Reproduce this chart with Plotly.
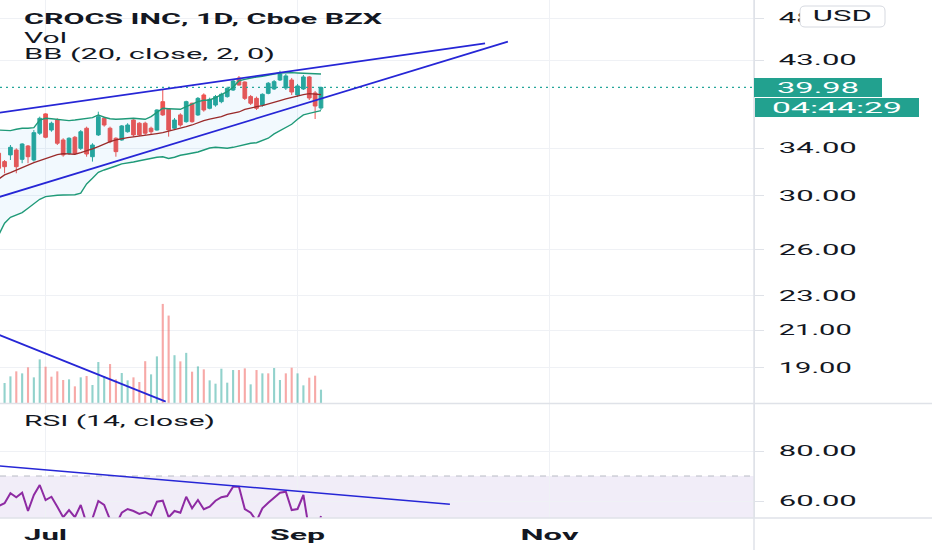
import math
import json
import plotly.graph_objects as go

# ---------------- data ----------------
DATES = ["2020-06-19", "2020-06-22", "2020-06-23", "2020-06-24", "2020-06-25", "2020-06-26",
         "2020-06-29", "2020-06-30", "2020-07-01", "2020-07-02", "2020-07-06", "2020-07-07",
         "2020-07-08", "2020-07-09", "2020-07-10", "2020-07-13", "2020-07-14", "2020-07-15",
         "2020-07-16", "2020-07-17", "2020-07-20", "2020-07-21", "2020-07-22", "2020-07-23",
         "2020-07-24", "2020-07-27", "2020-07-28", "2020-07-29", "2020-07-30", "2020-07-31",
         "2020-08-03", "2020-08-04", "2020-08-05", "2020-08-06", "2020-08-07", "2020-08-10",
         "2020-08-11", "2020-08-12", "2020-08-13", "2020-08-14", "2020-08-17", "2020-08-18",
         "2020-08-19", "2020-08-20", "2020-08-21", "2020-08-24", "2020-08-25", "2020-08-26",
         "2020-08-27", "2020-08-28", "2020-08-31", "2020-09-01", "2020-09-02", "2020-09-03",
         "2020-09-04", "2020-09-08"]

OPEN = [33.58, 32.84, 33.43, 33.87, 33.04, 34.23, 32.98, 35.41, 37.27, 35.71,
        36.67, 34.78, 33.58, 35.03, 34.02, 35.88, 33.27, 35.25, 36.84, 35.88,
        34.94, 34.78, 35.55, 36.67, 36.36, 36.36, 35.88, 35.71, 38.50, 37.73,
        35.88, 37.17, 36.51, 38.34, 37.17, 39.19, 37.83, 38.16, 38.50, 39.02,
        39.71, 40.99, 40.56, 39.02, 38.84, 38.16, 39.36, 39.82, 40.78, 39.92,
        40.78, 39.19, 39.82, 41.11, 39.40, 37.86]
HIGH = [33.87, 32.98, 34.32, 34.02, 34.48, 34.32, 35.71, 37.00, 37.33, 36.51,
        36.84, 34.94, 35.03, 35.15, 35.71, 36.03, 34.48, 37.49, 37.00, 36.03,
        35.03, 36.19, 36.36, 36.74, 36.46, 36.51, 36.03, 37.73, 39.79, 37.83,
        36.87, 37.33, 38.60, 38.40, 38.98, 39.36, 38.91, 39.19, 39.43, 40.06,
        40.78, 41.21, 40.63, 39.19, 39.02, 39.36, 40.56, 40.78, 41.80, 41.44,
        41.00, 40.35, 41.33, 41.22, 39.61, 40.08]
LOW = [31.95, 31.84, 32.98, 31.84, 32.70, 32.70, 32.84, 35.25, 34.94, 35.55,
       34.32, 33.27, 33.43, 33.43, 33.87, 33.27, 32.84, 35.15, 36.03, 34.48,
       33.27, 34.71, 35.46, 35.09, 35.15, 35.25, 35.25, 35.65, 37.07, 35.09,
       35.71, 36.03, 36.41, 36.41, 37.07, 37.49, 37.73, 37.99, 38.34, 38.91,
       39.61, 40.17, 38.67, 38.16, 37.66, 37.99, 39.26, 39.71, 40.67, 39.71,
       39.19, 38.98, 39.71, 38.67, 36.77, 37.66]
CLOSE = [32.27, 32.40, 34.11, 32.40, 34.41, 33.27, 35.46, 36.84, 35.03, 36.36,
         34.48, 33.43, 34.94, 33.58, 35.55, 33.51, 34.32, 37.00, 36.19, 34.62,
         33.72, 36.10, 36.19, 35.25, 35.25, 35.41, 35.55, 37.66, 37.17, 35.71,
         36.67, 36.19, 38.50, 36.51, 38.84, 37.66, 38.74, 39.02, 39.26, 39.89,
         40.67, 40.24, 38.84, 38.34, 37.83, 39.26, 40.43, 40.60, 41.44, 41.22,
         39.50, 40.14, 41.11, 38.88, 38.06, 39.98]

VOLUME_M = [1.50, 1.20, 1.60, 1.90, 1.78, 2.14, 1.54, 2.62, 2.18, 1.58,
            1.90, 1.38, 1.42, 1.00, 1.54, 1.62, 1.08, 2.46, 1.62, 2.34,
            1.42, 1.80, 1.36, 1.54, 1.26, 2.51, 1.72, 2.80, 5.95, 5.25,
            2.87, 2.50, 3.01, 1.88, 2.20, 2.02, 1.36, 1.16, 2.06, 1.22,
            1.98, 1.98, 2.08, 1.12, 1.98, 1.78, 1.78, 2.10, 1.38, 1.78,
            2.12, 1.78, 1.06, 1.52, 1.64, 0.80]
# 1 = teal (up) volume bar, 0 = red (down) volume bar, as coloured in the picture
VOLUME_UP = [1, 1, 1, 0, 1, 0, 1, 1, 0, 0,
             0, 0, 1, 0, 1, 0, 1, 1, 1, 0,
             0, 1, 1, 0, 0, 0, 1, 1, 0, 0,
             1, 0, 1, 0, 1, 0, 1, 1, 1, 1,
             1, 0, 0, 1, 0, 1, 0, 1, 1, 0,
             0, 1, 1, 0, 0, 1]

BB_UPPER = [35.71, 35.69, 35.65, 35.78, 35.88, 35.88, 35.94, 36.67, 36.84, 36.80,
            36.74, 36.67, 36.61, 36.67, 36.74, 36.84, 36.90, 37.17, 36.94, 36.80,
            36.74, 36.77, 36.84, 36.84, 36.80, 36.74, 37.00, 37.46, 37.83, 37.79,
            37.73, 37.73, 37.99, 38.24, 38.50, 38.64, 38.67, 38.91, 39.19, 39.53,
            40.00, 40.70, 40.85, 41.00, 41.11, 41.18, 41.27, 41.44, 41.55, 41.58,
            41.58, 41.55, 41.51, 41.51, 41.47, 41.44]
BB_BASIS = [31.36, 31.70, 31.89, 32.12, 32.35, 32.52, 32.75, 32.92, 33.10, 33.27,
            33.45, 33.54, 33.54, 33.49, 33.63, 33.78, 33.96, 34.17, 34.41, 34.62,
            34.78, 34.90, 34.99, 35.06, 35.12, 35.18, 35.27, 35.37, 35.46, 35.59,
            35.74, 35.88, 36.03, 36.19, 36.41, 36.61, 36.77, 36.87, 37.00, 37.23,
            37.33, 37.46, 37.73, 37.89, 37.99, 38.09, 38.24, 38.40, 38.60, 38.78,
            38.95, 39.12, 39.22, 39.33, 39.30, 39.22]
BB_LOWER = [27.03, 27.89, 28.33, 28.48, 28.68, 29.02, 29.35, 29.72, 29.93, 30.00,
            30.04, 30.06, 30.06, 30.08, 30.20, 30.95, 31.42, 31.92, 32.12, 32.26,
            32.46, 32.64, 32.70, 32.81, 32.92, 33.04, 33.12, 33.22, 33.27, 33.12,
            33.22, 33.40, 33.49, 33.58, 33.69, 33.87, 34.05, 34.11, 34.08, 34.02,
            34.11, 34.23, 34.35, 34.48, 34.53, 34.71, 34.94, 35.34, 35.65, 35.88,
            36.26, 36.74, 37.17, 37.33, 37.43, 37.59]

RSI = [58.0, 59.1, 63.1, 61.5, 63.3, 56.0, 62.4, 66.4, 60.4, 61.7,
       57.7, 53.5, 56.4, 53.5, 58.4, 51.0, 53.0, 60.0, 58.4, 52.5,
       50.5, 55.3, 56.8, 56.0, 54.8, 55.6, 54.3, 59.7, 60.1, 53.5,
       56.0, 55.3, 61.7, 57.1, 60.4, 56.7, 57.7, 60.1, 61.5, 62.0,
       65.7, 65.7, 56.8, 55.3, 52.0, 57.1, 59.3, 61.5, 63.3, 63.7,
       56.4, 56.8, 62.4, 48.0, 45.0, 54.0]

LAST_PRICE = 39.98
COUNTDOWN = "04:44:29"
CURRENCY = "USD"

PRICE_TICKS = [19, 21, 23, 26, 30, 34, 43, 48]
RSI_TICKS = [60, 80]
RSI_BAND = [30, 70]
MONTH_LABELS = ["Jul", "Sep", "Nov"]
MONTH_TICK_BARS = [8, 51, 94]          # bar index of the first session of each month

# trend lines drawn on the chart: (bar index, value)
UPPER_WEDGE_BARS = [0, 83.0]
UPPER_WEDGE_PRICES = [37.37, 44.95]
LOWER_WEDGE_BARS = [0, 86.9]
LOWER_WEDGE_PRICES = [29.89, 45.14]
VOLUME_LINE_BARS = [0, 28.5]
VOLUME_LINE_VALUES = [4.10, 0.08]
RSI_LINE_BARS = [0, 77.0]
RSI_LINE_VALUES = [74.04, 58.7]

TITLE = "CROCS INC, 1D, Cboe BZX"
VOL_LABEL = "Vol"
BB_LABEL = "BB (20, close, 2, 0)"
RSI_LABEL = "RSI (14, close)"

# ---------------- styling ----------------
X_RANGE = [0.22, 128.9]
PRICE_RANGE = [17.31, 50.42]
VOL_RANGE = [0, 24.2]
RSI_RANGE = [53.2, 98.8]

W, H = 932, 550
ML, MR, MT, MB = 0, 178, 0, 32
PW, PH = W - ML - MR, H - MT - MB          # 754 x 518
MAIN_BOTTOM_PX = 403
RSI_TOP_PX = 404

TEAL = "#26a69a"
RED = "#ef5350"
LABEL_BG = "#22a18f"
TEAL_VOL = "rgba(38,166,154,0.5)"
RED_VOL = "rgba(239,83,80,0.5)"
BAND_LINE = "#1f9a78"
BASIS_LINE = "#9a2a2a"
BB_FILL = "rgba(33,150,243,0.06)"
TREND = "#2626d6"
RSI_COLOR = "#8e2ba3"
RSI_FILL = "rgba(126,87,194,0.11)"
GRID = "#eff1f5"
AXIS_LINE = "#dfe2e8"
TEXT = "#131722"
FONT = "Roboto, DejaVu Sans, sans-serif"


def px_x(px):
    return px / PW


def px_y(py):
    return 1 - py / PH


bars = list(range(len(DATES)))
vol_colors = [TEAL_VOL if up else RED_VOL for up in VOLUME_UP]

fig = go.Figure()

# Bollinger bands
fig.add_trace(go.Scatter(x=bars, y=BB_UPPER, mode="lines", line=dict(color=BAND_LINE, width=1.4),
                         hoverinfo="skip", xaxis="x", yaxis="y"))
fig.add_trace(go.Scatter(x=bars, y=BB_LOWER, mode="lines", line=dict(color=BAND_LINE, width=1.4),
                         fill="tonexty", fillcolor=BB_FILL, hoverinfo="skip", xaxis="x", yaxis="y"))
fig.add_trace(go.Scatter(x=bars, y=BB_BASIS, mode="lines", line=dict(color=BASIS_LINE, width=1.3),
                         hoverinfo="skip", xaxis="x", yaxis="y"))

# last price line
fig.add_trace(go.Scatter(x=X_RANGE, y=[LAST_PRICE, LAST_PRICE], mode="lines",
                         line=dict(color=TEAL, width=1.2, dash="2px,4px"), hoverinfo="skip",
                         xaxis="x", yaxis="y"))

# candles
fig.add_trace(go.Candlestick(
    x=bars, open=OPEN, high=HIGH, low=LOW, close=CLOSE,
    increasing=dict(line=dict(color=TEAL, width=1), fillcolor=TEAL),
    decreasing=dict(line=dict(color=RED, width=1), fillcolor=RED),
    whiskerwidth=0, hoverinfo="skip", xaxis="x", yaxis="y"))

# wedge trend lines
fig.add_trace(go.Scatter(x=UPPER_WEDGE_BARS, y=UPPER_WEDGE_PRICES, mode="lines",
                         line=dict(color=TREND, width=1.8), hoverinfo="skip", xaxis="x", yaxis="y"))
fig.add_trace(go.Scatter(x=LOWER_WEDGE_BARS, y=LOWER_WEDGE_PRICES, mode="lines",
                         line=dict(color=TREND, width=1.8), hoverinfo="skip", xaxis="x", yaxis="y"))

# volume
fig.add_trace(go.Bar(x=bars, y=VOLUME_M, marker=dict(color=vol_colors, line=dict(width=0)),
                     width=0.36, hoverinfo="skip", xaxis="x", yaxis="y2"))
fig.add_trace(go.Scatter(x=VOLUME_LINE_BARS, y=VOLUME_LINE_VALUES, mode="lines",
                         line=dict(color=TREND, width=1.8), hoverinfo="skip", xaxis="x", yaxis="y2"))

# RSI
fig.add_trace(go.Scatter(x=bars, y=RSI, mode="lines", line=dict(color=RSI_COLOR, width=2),
                         hoverinfo="skip", xaxis="x", yaxis="y3"))
fig.add_trace(go.Scatter(x=RSI_LINE_BARS, y=RSI_LINE_VALUES, mode="lines",
                         line=dict(color=TREND, width=1.5), hoverinfo="skip", xaxis="x", yaxis="y3"))

tickfont = dict(family=FONT, size=14, color=TEXT)
main_domain = [px_y(MAIN_BOTTOM_PX), 1]
rsi_domain = [0, px_y(RSI_TOP_PX)]

fig.update_layout(
    width=W, height=H, margin=dict(l=ML, r=MR, t=MT, b=MB),
    paper_bgcolor="white", plot_bgcolor="white", showlegend=False, hovermode=False,
    boxgap=0.1,
    xaxis=dict(range=X_RANGE, anchor="y3", tickmode="array", tickvals=MONTH_TICK_BARS,
               ticktext=MONTH_LABELS, showgrid=True, gridcolor=GRID, gridwidth=1, zeroline=False,
               ticks="", showline=False, ticklabelstandoff=6,
               tickfont=dict(family=FONT, size=15, color=TEXT, weight="bold"),
               rangeslider=dict(visible=False), fixedrange=True),
    yaxis=dict(type="log", domain=main_domain,
               range=[math.log10(PRICE_RANGE[0]), math.log10(PRICE_RANGE[1])],
               side="right", tickmode="array", tickvals=PRICE_TICKS,
               ticktext=[f"{v:.2f}" for v in PRICE_TICKS], showgrid=True, gridcolor=GRID,
               zeroline=False, ticks="outside", ticklen=9, tickcolor=AXIS_LINE, showline=True,
               linecolor=AXIS_LINE, linewidth=1, tickfont=tickfont, ticklabelstandoff=12,
               fixedrange=True),
    yaxis2=dict(overlaying="y", anchor="x", range=VOL_RANGE, visible=False, fixedrange=True),
    yaxis3=dict(domain=rsi_domain, anchor="x", range=RSI_RANGE, side="right", tickmode="array",
                tickvals=RSI_TICKS, ticktext=[f"{v:.2f}" for v in RSI_TICKS], showgrid=True,
                gridcolor=GRID, zeroline=False, ticks="outside", ticklen=9, tickcolor=AXIS_LINE,
                showline=True, linecolor=AXIS_LINE, linewidth=1, tickfont=tickfont,
                ticklabelstandoff=12, fixedrange=True),
)

shapes = []
# RSI band background and upper band line
shapes.append(dict(type="rect", xref="paper", yref="y3", x0=0, x1=1, y0=RSI_BAND[0], y1=RSI_BAND[1],
                   fillcolor=RSI_FILL, line=dict(width=0), layer="below"))
shapes.append(dict(type="line", xref="paper", yref="y3", x0=0, x1=1, y0=RSI_BAND[1], y1=RSI_BAND[1],
                   line=dict(color="#b8bbc4", width=1, dash="6px,6px"), layer="below"))
# pane separators
for py in (MAIN_BOTTOM_PX + 0.5, PH):
    shapes.append(dict(type="line", xref="paper", yref="paper", x0=0, x1=W / PW,
                       y0=px_y(py), y1=px_y(py), line=dict(color=AXIS_LINE, width=1.5), layer="above"))
shapes.append(dict(type="line", xref="paper", yref="paper", x0=1, x1=1, y0=-MB / PH, y1=1,
                   line=dict(color=AXIS_LINE, width=1.5), layer="above"))
# currency button (rounded)
bx0, bx1, by0, by1, r = 800, 885, 6, 27, 5
path = (f"M {px_x(bx0 + r)} {px_y(by0)} L {px_x(bx1 - r)} {px_y(by0)} "
        f"Q {px_x(bx1)} {px_y(by0)} {px_x(bx1)} {px_y(by0 + r)} L {px_x(bx1)} {px_y(by1 - r)} "
        f"Q {px_x(bx1)} {px_y(by1)} {px_x(bx1 - r)} {px_y(by1)} L {px_x(bx0 + r)} {px_y(by1)} "
        f"Q {px_x(bx0)} {px_y(by1)} {px_x(bx0)} {px_y(by1 - r)} L {px_x(bx0)} {px_y(by0 + r)} "
        f"Q {px_x(bx0)} {px_y(by0)} {px_x(bx0 + r)} {px_y(by0)} Z")
shapes.append(dict(type="path", xref="paper", yref="paper", path=path, fillcolor="white",
                   line=dict(color="#d6d9e0", width=1), layer="above"))
fig.update_layout(shapes=shapes)

ann = []
def label(text, px, py, size=14, bold=False):
    ann.append(dict(text=text, xref="paper", yref="paper", x=px_x(px), y=px_y(py),
                    xanchor="left", yanchor="middle", align="left", showarrow=False,
                    font=dict(family=FONT, size=size, color=TEXT, weight="bold" if bold else "normal")))

label(TITLE, 22, 19, size=15, bold=True)
label(VOL_LABEL, 22, 37.5, size=14)
label(BB_LABEL, 22, 54, size=14)
label(RSI_LABEL, 22, 421.5, size=14)
# last-price label and bar countdown, pinned to the last price on the price scale
ann.append(dict(text=f"{LAST_PRICE:.2f}", xref="paper", yref="y", x=1, y=math.log10(LAST_PRICE),
                xanchor="left", yanchor="middle", align="center", width=128, height=19,
                borderpad=0, borderwidth=0, bgcolor=LABEL_BG, showarrow=False,
                font=dict(family=FONT, size=15, color="white")))
ann.append(dict(text=COUNTDOWN, xref="paper", yref="y", x=1, y=math.log10(LAST_PRICE),
                xanchor="left", yanchor="middle", align="center", width=164, height=19,
                borderpad=0, borderwidth=0, bgcolor=LABEL_BG, xshift=1, yshift=-20.5,
                showarrow=False, font=dict(family=FONT, size=14, color="white")))
ann.append(dict(text=CURRENCY, xref="paper", yref="paper", x=px_x(842.5), y=px_y(16.5),
                xanchor="center", yanchor="middle", showarrow=False,
                font=dict(family=FONT, size=14, color=TEXT)))
fig.update_layout(annotations=ann)

# the source screenshot is horizontally stretched: widen the texts to the widths seen there
TEXT_WIDTHS = {TITLE: 358, VOL_LABEL: 43, BB_LABEL: 251, RSI_LABEL: 191, CURRENCY: 59,
               f"{LAST_PRICE:.2f}": 82, COUNTDOWN: 130, "Jul": 43, "Sep": 55, "Nov": 58,
               "48.00": 78, "43.00": 78, "34.00": 78, "30.00": 78, "26.00": 78, "23.00": 78,
               "21.00": 73, "19.00": 73, "80.00": 78, "60.00": 78}
post = """
document.body.style.margin = '0';
document.body.style.overflow = 'hidden';
var gd = document.getElementById('{plot_id}');
var TW = %s;
function stretchTexts(){
  var ts = gd.querySelectorAll('text');
  for (var k = 0; k < ts.length; k++) {
    var t = ts[k], s = t.textContent;
    if (Object.prototype.hasOwnProperty.call(TW, s)) {
      t.setAttribute('textLength', TW[s]);
      t.setAttribute('lengthAdjust', 'spacingAndGlyphs');
    }
  }
}
stretchTexts();
if (gd.on) { gd.on('plotly_afterplot', stretchTexts); }
""" % json.dumps(TEXT_WIDTHS)

fig.write_html("out.html", post_script=post, config=dict(displayModeBar=False, staticPlot=True))
